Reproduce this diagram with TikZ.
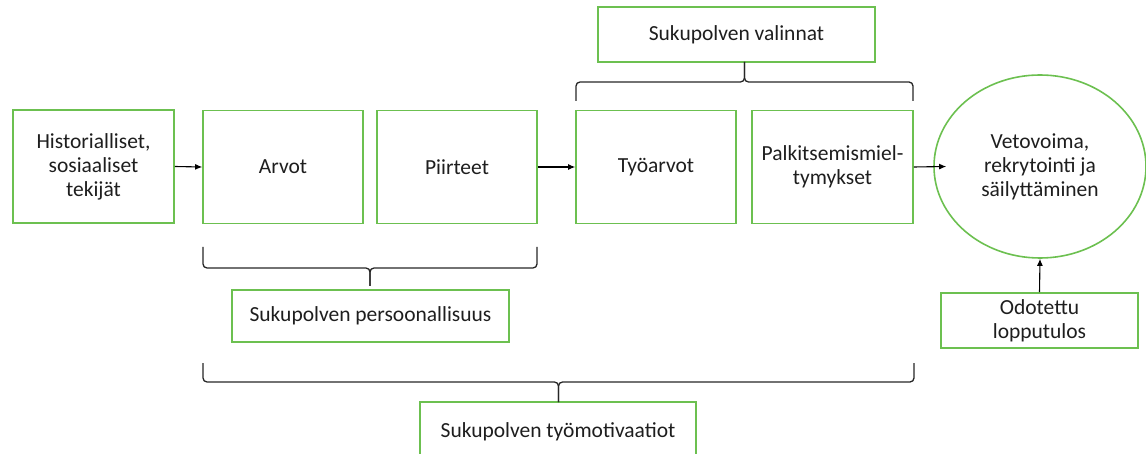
\documentclass[tikz,border=0pt]{standalone}
\usepackage{fontspec}
\setmainfont{Carlito}
\usetikzlibrary{arrows.meta,calc,shapes.geometric}
\definecolor{boxgreen}{RGB}{108,192,80}
\definecolor{inkgray}{RGB}{30,30,30}
\begin{document}
\begin{tikzpicture}[x=1pt,y=-1pt,
  gbox/.style={draw=boxgreen,line width=1.6pt,align=center,inner sep=0pt,
    font=\fontsize{21.5}{24}\selectfont,text=inkgray},
  conn/.style={-{Latex[length=7pt,width=6pt]},line width=1.1pt,draw=black},
  bracepath/.style={line width=1.3pt,draw=black!85,rounded corners=4pt}]
\useasboundingbox (0,0) rectangle (1146,454);

\node[gbox,minimum width=161,minimum height=113] (hist) at (93.5,166.5) {Historialliset,\\sosiaaliset\\tekijät};
\node[gbox,minimum width=160,minimum height=113] (arvot) at (283,167) {Arvot};
\node[gbox,minimum width=160,minimum height=113] (piirteet) at (457,167) {Piirteet};
\node[gbox,minimum width=160,minimum height=113] (tyoarvot) at (656,167) {Työarvot};
\node[gbox,minimum width=161,minimum height=113] (palk) at (832.5,167) {Palkitsemismiel-\\tymykset};
\node[gbox,ellipse,minimum width=212,minimum height=183] (ell) at (1040,166.5) {Vetovoima,\\rekrytointi ja\\säilyttäminen};
\node[gbox,minimum width=197,minimum height=55] (odot) at (1039.5,320.5) {Odotettu\\lopputulos};
\node[gbox,minimum width=277,minimum height=55] (valinnat) at (736.5,34.5) {Sukupolven valinnat};
\node[gbox,minimum width=277,minimum height=52] (persoon) at (370.5,316) {Sukupolven persoonallisuus};
\node[gbox,minimum width=276,minimum height=60] (tyomot) at (558,432) {Sukupolven työmotivaatiot};

\coordinate (elltip) at ($(ell.west)+(13,0)$);
\draw[conn] (hist.east) -- (arvot.west);
\draw[conn] (piirteet.east) -- (tyoarvot.west);
\draw[conn] (palk.east) -- (elltip);
\draw[conn] (odot.north) -- (ell.south);

% top brace (valinnat)
\draw[bracepath] (576,101) -- (576,82) -- (744.5,82) -- (744.5,62);
\draw[bracepath] (913,101) -- (913,82) -- (744.5,82) -- (744.5,62);
% personality brace
\draw[bracepath] (203,247) -- (203,268) -- (370,268) -- (370,286);
\draw[bracepath] (537,247) -- (537,268) -- (370,268) -- (370,286);
% work motivation brace
\draw[bracepath] (203,363) -- (203,382) -- (558.5,382) -- (558.5,402);
\draw[bracepath] (914,363) -- (914,382) -- (558.5,382) -- (558.5,402);
\end{tikzpicture}
\end{document}
